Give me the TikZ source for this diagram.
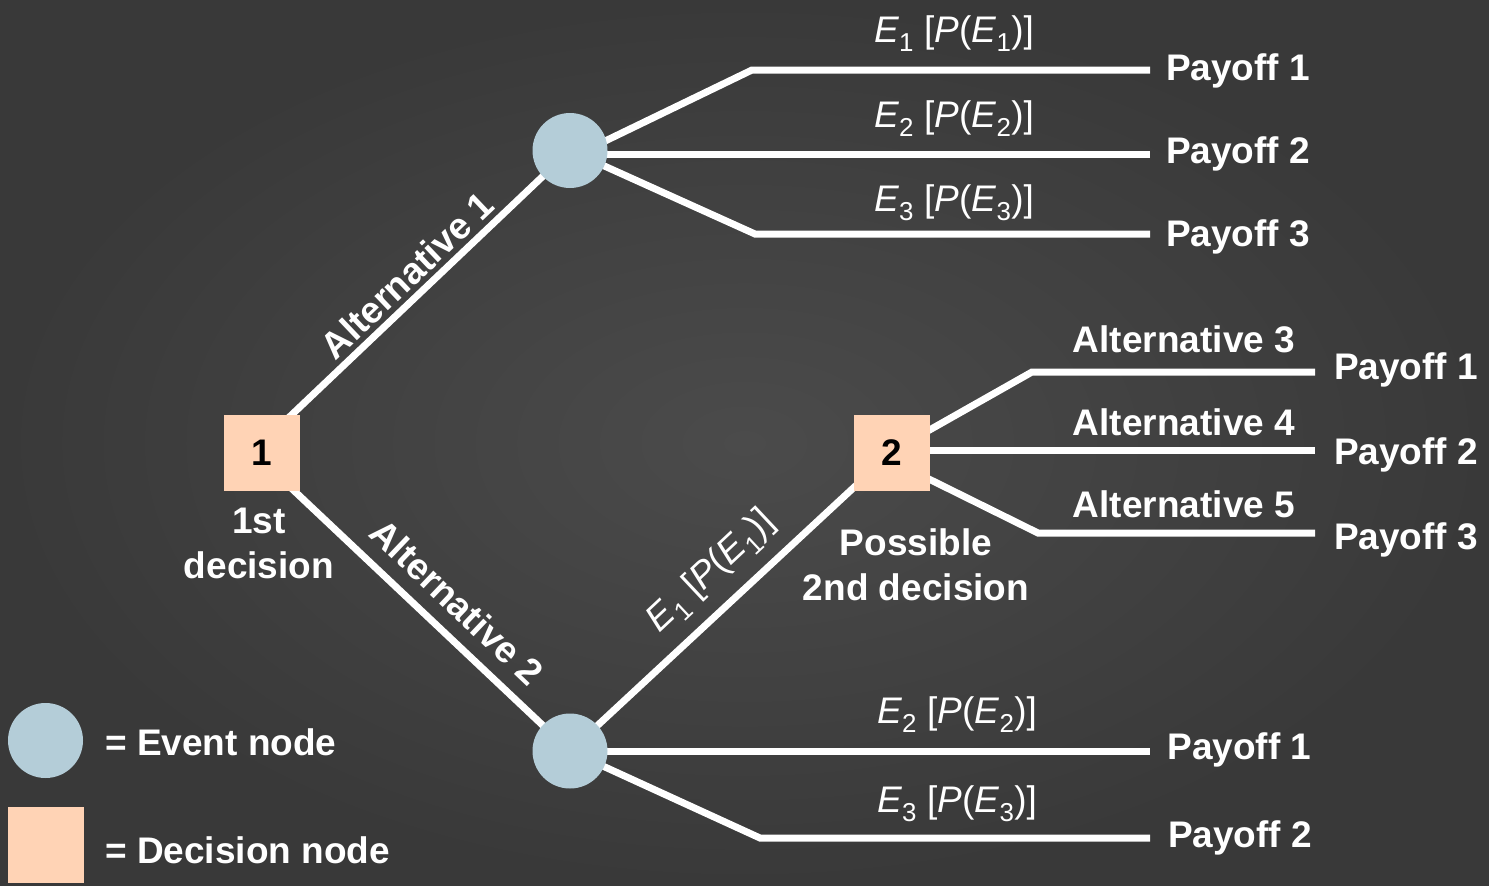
\documentclass[tikz,border=0pt]{standalone}
\usepackage{fontspec}
\setmainfont{Liberation Sans}
\definecolor{bgin}{HTML}{4B4B4B}
\definecolor{bgout}{HTML}{393939}
\definecolor{evfill}{HTML}{B4CDD8}
\definecolor{decfill}{HTML}{FFD3B5}
\pgfdeclarelayer{back}
\pgfdeclarelayer{wires}
\pgfsetlayers{back,wires,main}
\newcommand{\EP}[1]{\textit{E}\textsubscript{#1} [\textit{P}(\textit{E}\textsubscript{#1})]}
\tikzset{
  branch/.style={white, line width=7pt},
  event/.style={circle, fill=evfill, minimum size=75pt, inner sep=0pt},
  decision/.style={rectangle, fill=decfill, minimum size=76pt, inner sep=0pt,
    font=\fontsize{37}{44}\selectfont\bfseries, text=black},
  lbl/.style={text=white, font=\fontsize{37}{45}\selectfont\bfseries, inner sep=0pt, align=center},
  elbl/.style={text=white, font=\fontsize{37}{45}\selectfont, inner sep=0pt},
}
\begin{document}
\begin{tikzpicture}[x=1pt,y=-1pt]
\useasboundingbox (0,0) rectangle (1489,886);
\begin{pgfonlayer}{back}
  \shade[inner color=bgin, outer color=bgout] (0,0) rectangle (1489,886);
\end{pgfonlayer}

% nodes
\node[decision] (d1) at (262,453) {1};
\node[decision] (d2) at (891.5,452.5) {2};
\node[event] (ev1) at (570,150.5) {};
\node[event] (ev2) at (570,751) {};
\node[event] (lg1) at (45.5,740.5) {};
\node[decision] (lg2) at (46,845) {};

% bend and end coordinates
\coordinate (t1b) at (752,70);   \coordinate (t1e) at (1150,70);
\coordinate (t2e) at (1150,154);
\coordinate (t3b) at (755,234);  \coordinate (t3e) at (1150,234);
\coordinate (b2e) at (1150,751);
\coordinate (b3b) at (760,838);  \coordinate (b3e) at (1150,838);
\coordinate (a3b) at (1032,372); \coordinate (a3e) at (1315,372);
\coordinate (a4e) at (1315,450);
\coordinate (a5b) at (1038,533); \coordinate (a5e) at (1315,533);

\begin{pgfonlayer}{wires}
  \draw[branch] ([yshift=10pt]d1.center) -- (ev1.center);
  \draw[branch] ([yshift=-7.5pt]d1.center) -- (ev2.center);
  \draw[branch] (ev2.center) -- (d2.center);
  \draw[branch] ([yshift=-7.5pt]ev1.center) -- (t1b) -- (t1e);
  \draw[branch] ([yshift=-3.5pt]ev1.center) -- (t2e);
  \draw[branch] (ev1.center) -- (t3b) -- (t3e);
  \draw[branch] (ev2.center) -- (b2e);
  \draw[branch] (ev2.center) -- (b3b) -- (b3e);
  \draw[branch] ([yshift=1pt]d2.center) -- (a3b) -- (a3e);
  \draw[branch] ([yshift=2.5pt]d2.center) -- (a4e);
  \draw[branch] ([yshift=-8pt]d2.center) -- (a5b) -- (a5e);
\end{pgfonlayer}

% event labels (top)
\node[elbl, anchor=base] (le1) at (954,42) {\EP{1}};
\node[elbl, anchor=base] (le2) at (954,127) {\EP{2}};
\node[elbl, anchor=base] (le3) at (954,211) {\EP{3}};
\node[lbl, anchor=base] (p1) at (1238,80) {Payoff 1};
\node[lbl, anchor=base] (p2) at (1238,163) {Payoff 2};
\node[lbl, anchor=base] (p3) at (1238,246) {Payoff 3};

% second decision
\node[lbl, anchor=base] (al3) at (1184,352) {Alternative 3};
\node[lbl, anchor=base] (al4) at (1184,435) {Alternative 4};
\node[lbl, anchor=base] (al5) at (1184,517) {Alternative 5};
\node[lbl, anchor=base] (q1) at (1406,379) {Payoff 1};
\node[lbl, anchor=base] (q2) at (1406,464) {Payoff 2};
\node[lbl, anchor=base] (q3) at (1406,549) {Payoff 3};
\node[lbl] (pd) at (916,564.5) {Possible\\2nd decision};

% first decision
\node[lbl] (fd) at (259,543) {1st\\decision};
\node[lbl, rotate=43.6] (al1) at (407,275) {Alternative 1};
\node[lbl, rotate=-43.6] (al2) at (457,602) {Alternative 2};
\node[elbl, rotate=43.2] (le1b) at (712,572) {\EP{1}};

% bottom event
\node[elbl, anchor=base] (le2b) at (957,723) {\EP{2}};
\node[elbl, anchor=base] (le3b) at (957,812) {\EP{3}};
\node[lbl, anchor=base] (r1) at (1239.5,759) {Payoff 1};
\node[lbl, anchor=base] (r2) at (1240,847) {Payoff 2};

% legend
\node[lbl, anchor=base west] (lt1) at (105,755) {= Event node};
\node[lbl, anchor=base west] (lt2) at (105,863) {= Decision node};
\end{tikzpicture}
\end{document}
